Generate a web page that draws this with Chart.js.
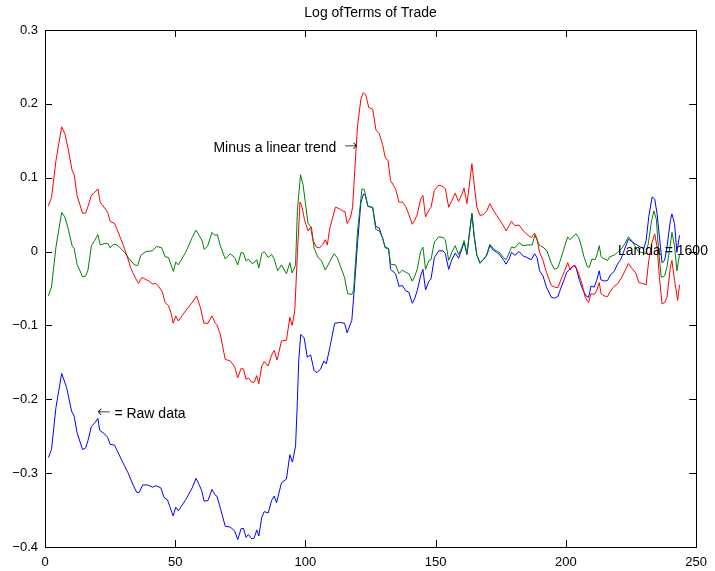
<!DOCTYPE html>
<html>
<head>
<meta charset="utf-8">
<script src="https://cdn.jsdelivr.net/npm/chart.js@4/dist/chart.umd.min.js"></script>
<style>
  html, body { margin: 0; padding: 0; background: #ffffff; }
  #wrap { width: 715px; height: 571px; }
</style>
</head>
<body>
<div id="wrap"><canvas id="c" width="715" height="571"></canvas></div>
<script>
// Axis ticks and title
const chartTitle = 'Log ofTerms of Trade';
const xTickValues = [0, 50, 100, 150, 200, 250];
const yTickValues = [-0.4, -0.3, -0.2, -0.1, 0, 0.1, 0.2, 0.3];

// Raw log terms of trade: [quarter, value]
const rawSeries = [
  [1.3,-0.279],[2.5,-0.268],[4.2,-0.211],[6.4,-0.165],[8.3,-0.184],[10.2,-0.216],[11.2,-0.223],
  [12.3,-0.245],[14.4,-0.268],[15.6,-0.266],[16.5,-0.256],[17.8,-0.237],[19.1,-0.232],[20.3,-0.226],
  [21.0,-0.242],[22.9,-0.247],[24.1,-0.252],[25.0,-0.261],[26.7,-0.262],[27.9,-0.271],[29.8,-0.285],
  [31.8,-0.299],[33.7,-0.315],[35.2,-0.326],[36.2,-0.326],[37.5,-0.316],[39.4,-0.316],[41.3,-0.319],
  [42.6,-0.317],[44.5,-0.320],[45.7,-0.333],[47.0,-0.336],[47.9,-0.345],[49.2,-0.358],[50.2,-0.346],
  [51.2,-0.351],[54.0,-0.336],[56.5,-0.320],[58.0,-0.307],[59.1,-0.315],[60.1,-0.323],[61.1,-0.338],
  [62.6,-0.337],[64.1,-0.322],[65.4,-0.330],[66.0,-0.331],[67.3,-0.347],[69.2,-0.372],[71.1,-0.373],
  [72.8,-0.378],[74.0,-0.390],[75.3,-0.375],[76.2,-0.375],[77.2,-0.387],[78.1,-0.383],[79.4,-0.389],
  [80.3,-0.388],[81.3,-0.377],[82.1,-0.385],[83.2,-0.360],[84.2,-0.352],[85.7,-0.354],[87.0,-0.337],
  [88.0,-0.331],[88.9,-0.340],[90.8,-0.313],[92.7,-0.308],[94.0,-0.275],[95.0,-0.285],[96.2,-0.263],
  [96.9,-0.202],[97.4,-0.148],[98.2,-0.112],[99.5,-0.117],[100.7,-0.143],[102.0,-0.140],[103.3,-0.161],
  [104.4,-0.164],[105.8,-0.159],[107.1,-0.148],[108.0,-0.152],[109.3,-0.131],[111.2,-0.097],[113.1,-0.096],
  [115.0,-0.097],[116.0,-0.110],[117.8,-0.093],[118.8,-0.048],[120.0,0.012],[121.3,0.067],[122.3,0.078],
  [123.0,0.076],[124.0,0.061],[125.8,0.060],[127.0,0.034],[128.3,0.032],[129.6,0.018],[130.6,0.006],
  [131.9,0.004],[132.7,-0.024],[134.6,-0.030],[135.9,-0.047],[137.2,-0.046],[138.5,-0.053],[139.7,-0.055],
  [141.0,-0.070],[141.9,-0.064],[142.9,-0.053],[144.2,-0.033],[145.1,-0.024],[146.1,-0.052],[147.4,-0.040],
  [148.2,-0.037],[149.5,-0.008],[151.2,0.001],[152.8,0.001],[153.7,-0.003],[155.0,-0.024],[156.2,-0.011],
  [157.5,-0.002],[158.8,-0.009],[160.1,0.004],[160.9,0.013],[162.0,-0.004],[162.8,0.019],[163.9,0.051],
  [164.8,0.019],[165.8,-0.005],[167.0,-0.015],[168.3,-0.011],[169.6,-0.005],[170.8,0.008],[172.1,0.002],
  [173.4,-0.001],[174.7,-0.005],[176.0,-0.011],[177.0,-0.017],[178.2,-0.010],[179.1,-0.001],[180.4,-0.005],
  [182.0,0.000],[183.6,-0.006],[185.0,-0.008],[186.7,-0.011],[188.0,-0.003],[188.9,-0.008],[189.9,-0.026],
  [191.2,-0.033],[192.5,-0.048],[194.4,-0.062],[195.6,-0.063],[196.9,-0.061],[198.2,-0.048],[199.4,-0.037],
  [200.3,-0.028],[201.3,-0.025],[202.9,-0.019],[203.9,-0.022],[205.2,-0.039],[206.4,-0.051],[207.7,-0.060],
  [208.7,-0.062],[209.6,-0.047],[210.9,-0.048],[211.8,-0.039],[212.8,-0.026],[213.4,-0.038],[214.7,-0.040],
  [216.0,-0.039],[217.2,-0.031],[218.5,-0.027],[219.8,-0.017],[221.0,-0.011],[222.3,0.001],[224.0,0.017],
  [225.5,0.013],[226.8,0.010],[228.7,0.006],[229.9,0.004],[230.8,0.015],[231.8,0.047],[233.1,0.074],
  [234.1,0.071],[235.0,0.051],[236.3,0.006],[236.9,-0.015],[237.9,-0.012],[238.8,0.006],[240.1,0.042],
  [240.7,0.051],[241.7,0.038],[242.6,-0.001],[243.6,0.022]
];

// HP-filtered cycle (lambda = 1600): [quarter, value]
const hpSeries = [
  [1.3,-0.060],[2.5,-0.048],[4.2,0.006],[6.4,0.053],[7.6,0.047],[8.9,0.031],[10.4,0.008],[11.2,0.004],
  [12.3,-0.017],[14.4,-0.034],[15.6,-0.033],[16.5,-0.025],[17.8,0.008],[19.1,0.015],[20.3,0.023],
  [21.2,0.009],[22.9,0.011],[24.1,0.011],[25.0,0.005],[26.3,0.010],[27.5,0.009],[28.6,0.006],[30.5,-0.001],
  [32.4,-0.010],[34.3,-0.018],[35.6,-0.019],[36.8,-0.005],[38.8,0.000],[41.3,0.001],[42.8,0.007],
  [44.8,0.005],[46.1,-0.007],[47.4,-0.008],[48.3,-0.017],[49.3,-0.027],[50.2,-0.014],[51.2,-0.018],
  [54.0,-0.001],[56.5,0.019],[58.0,0.029],[59.3,0.021],[60.3,0.015],[61.1,0.003],[62.4,0.007],[64.1,0.026],
  [65.2,0.022],[66.2,0.023],[67.3,0.008],[69.2,-0.010],[71.1,-0.003],[72.8,-0.008],[74.0,-0.018],
  [75.3,-0.001],[76.2,-0.002],[77.2,-0.013],[78.1,-0.010],[79.4,-0.016],[80.3,-0.015],[81.3,-0.011],
  [82.1,-0.022],[83.2,-0.003],[84.2,0.000],[85.7,-0.008],[87.0,-0.004],[88.0,-0.010],[89.3,-0.026],
  [90.8,-0.018],[92.7,-0.030],[94.0,-0.015],[94.9,-0.029],[96.2,-0.018],[96.9,0.056],[98.1,0.104],
  [99.1,0.090],[100.0,0.065],[101.0,0.038],[102.3,0.033],[103.3,0.005],[104.8,-0.008],[106.1,-0.012],
  [107.6,-0.025],[109.3,-0.014],[111.0,-0.003],[112.2,-0.008],[113.4,-0.020],[115.0,-0.035],[116.2,-0.057],
  [117.8,-0.058],[118.5,-0.052],[120.0,0.028],[121.7,0.085],[122.6,0.084],[123.9,0.062],[125.8,0.059],
  [127.0,0.030],[128.3,0.028],[129.6,0.019],[130.6,0.005],[131.9,0.004],[132.7,-0.017],[134.6,-0.018],
  [135.9,-0.030],[137.2,-0.025],[138.5,-0.028],[139.7,-0.030],[141.0,-0.040],[141.9,-0.034],[142.9,-0.024],
  [144.2,0.000],[145.1,0.006],[146.1,-0.024],[147.4,-0.012],[148.2,-0.011],[149.5,0.013],[151.2,0.020],
  [152.8,0.019],[153.7,0.016],[155.0,-0.012],[156.2,-0.001],[157.5,0.008],[158.8,-0.004],[160.1,0.006],
  [160.9,0.015],[162.0,-0.003],[162.8,0.022],[163.9,0.052],[164.8,0.022],[165.8,-0.005],[167.0,-0.016],
  [168.3,-0.011],[169.6,-0.004],[170.8,0.010],[172.1,0.004],[173.4,0.001],[174.7,-0.002],[176.0,-0.008],
  [177.0,-0.011],[178.2,-0.002],[179.1,0.006],[180.4,0.005],[182.0,0.012],[183.6,0.008],[185.5,0.009],
  [187.1,0.009],[188.0,0.022],[188.9,0.016],[189.9,0.008],[191.2,0.006],[192.7,0.001],[194.4,-0.016],
  [195.6,-0.024],[196.9,-0.022],[198.2,-0.008],[199.4,0.006],[200.7,0.020],[201.6,0.016],[202.6,0.020],
  [203.9,0.024],[204.9,0.019],[205.8,0.009],[207.0,-0.008],[208.3,-0.021],[209.0,-0.021],[210.0,-0.010],
  [211.2,-0.011],[211.8,-0.006],[212.8,0.008],[213.5,-0.007],[214.7,-0.010],[216.0,-0.012],[216.8,-0.007],
  [218.5,-0.005],[219.8,-0.001],[221.4,0.004],[222.7,0.011],[224.0,0.020],[225.2,0.015],[226.1,0.010],
  [227.8,0.000],[229.0,-0.001],[230.6,-0.003],[231.6,0.010],[232.9,0.042],[233.8,0.055],[234.7,0.044],
  [235.6,0.001],[236.6,-0.035],[237.9,-0.033],[238.8,-0.021],[240.1,0.010],[240.7,0.026],[241.7,0.008],
  [242.6,-0.026],[243.6,-0.005]
];

// Series minus a linear trend: [quarter, value]
const detrendedSeries = [
  [1.3,0.062],[2.5,0.073],[4.2,0.123],[6.4,0.169],[7.6,0.160],[8.9,0.139],[10.4,0.110],[11.2,0.104],
  [12.3,0.076],[14.4,0.052],[15.6,0.052],[16.5,0.061],[17.8,0.076],[19.1,0.080],[20.3,0.085],[21.2,0.067],
  [22.9,0.059],[24.1,0.053],[25.0,0.041],[26.7,0.038],[27.9,0.028],[29.6,0.013],[31.4,-0.005],[33.0,-0.023],
  [34.9,-0.037],[35.9,-0.043],[37.2,-0.035],[38.8,-0.038],[40.0,-0.040],[41.3,-0.044],[42.6,-0.043],
  [43.8,-0.048],[45.1,-0.055],[46.1,-0.069],[47.4,-0.073],[48.3,-0.082],[49.2,-0.097],[50.2,-0.087],
  [51.2,-0.094],[54.0,-0.080],[56.5,-0.069],[58.2,-0.060],[59.7,-0.076],[61.0,-0.097],[62.6,-0.097],
  [64.1,-0.087],[65.4,-0.097],[66.0,-0.099],[67.3,-0.112],[69.2,-0.146],[71.1,-0.148],[72.8,-0.156],
  [74.0,-0.171],[75.3,-0.158],[76.2,-0.159],[77.2,-0.173],[78.1,-0.171],[79.4,-0.177],[80.3,-0.177],
  [81.3,-0.168],[82.1,-0.179],[83.2,-0.155],[84.2,-0.149],[85.7,-0.155],[87.0,-0.140],[88.0,-0.134],
  [89.1,-0.147],[90.8,-0.121],[92.7,-0.120],[94.0,-0.089],[94.9,-0.100],[95.9,-0.080],[96.9,-0.003],
  [97.9,0.067],[98.7,0.060],[99.7,0.042],[101.0,0.028],[102.0,0.033],[102.9,0.015],[104.2,0.006],
  [105.4,0.005],[106.7,0.010],[107.6,0.016],[108.4,0.009],[109.3,0.031],[110.3,0.044],[111.5,0.060],
  [113.1,0.058],[114.3,0.055],[115.2,0.054],[116.0,0.038],[117.3,0.046],[118.1,0.060],[119.0,0.114],
  [120.0,0.170],[121.3,0.207],[122.2,0.215],[123.2,0.212],[124.3,0.195],[125.8,0.193],[127.1,0.164],
  [128.3,0.160],[129.6,0.145],[130.6,0.128],[131.7,0.123],[132.7,0.096],[134.6,0.085],[135.9,0.067],
  [137.2,0.067],[138.5,0.061],[139.7,0.050],[141.0,0.037],[141.9,0.042],[142.9,0.050],[144.2,0.071],
  [145.1,0.076],[146.1,0.047],[147.4,0.056],[148.2,0.060],[149.5,0.083],[151.2,0.090],[152.8,0.088],
  [153.7,0.085],[155.0,0.060],[156.2,0.069],[157.5,0.079],[158.8,0.068],[160.1,0.078],[160.9,0.086],
  [162.0,0.065],[162.8,0.087],[163.9,0.119],[164.8,0.090],[165.8,0.060],[167.0,0.049],[168.3,0.050],
  [169.6,0.055],[170.8,0.065],[172.1,0.056],[173.4,0.049],[174.7,0.042],[176.0,0.035],[177.0,0.028],
  [178.2,0.035],[179.1,0.041],[180.4,0.035],[182.0,0.036],[183.6,0.028],[185.5,0.022],[186.7,0.019],
  [188.0,0.025],[188.9,0.017],[189.9,-0.001],[191.2,-0.012],[192.5,-0.028],[194.4,-0.046],[195.6,-0.048],
  [196.9,-0.049],[198.2,-0.037],[199.4,-0.027],[200.7,-0.015],[201.6,-0.025],[202.6,-0.020],[203.6,-0.019],
  [204.9,-0.030],[206.2,-0.044],[207.4,-0.062],[208.7,-0.069],[209.6,-0.057],[210.9,-0.058],[211.8,-0.053],
  [212.8,-0.042],[213.5,-0.057],[214.7,-0.060],[216.0,-0.061],[216.8,-0.055],[218.5,-0.047],[219.8,-0.044],
  [221.4,-0.035],[222.7,-0.026],[224.0,-0.016],[225.2,-0.022],[226.8,-0.029],[228.0,-0.042],[229.3,-0.043],
  [230.8,-0.045],[231.8,-0.012],[233.1,0.013],[234.1,0.024],[235.0,0.006],[235.9,-0.035],[236.9,-0.071],
  [237.9,-0.069],[238.8,-0.062],[240.1,-0.021],[240.7,-0.012],[241.7,-0.039],[242.9,-0.066],[243.6,-0.045]
];

// Text notes placed in data coordinates; each note is a run of segments
// (arrows are set in a font whose arrow glyphs are full width)
const notes = [
  { x: 120, y: 0.14, align: 'right', parts: [['Minus a linear trend  ', 'text'], ['\u2192', 'arrow']] },
  { x: 20, y: -0.22, align: 'left', parts: [['\u2190', 'arrow'], [' = Raw data', 'text']] },
  { x: 220, y: 0, align: 'left', parts: [['Lamda = 1600', 'text']] }
];

const FONT = "'Liberation Sans', Arial, Helvetica, sans-serif";
const NOTE_FONTS = { text: '14px ' + FONT, arrow: "200 16px 'DejaVu Sans', sans-serif" };
Chart.defaults.font.family = FONT;
Chart.defaults.font.size = 13;
Chart.defaults.color = '#000000';

const toPoints = arr => arr.map(p => ({ x: p[0], y: p[1] }));

function fmtTick(v) {
  const r = Math.round(v * 10) / 10;
  if (r === 0) return '0';
  return (r < 0 ? '\u2212' : '') + Math.abs(r).toFixed(1);
}

function drawNote(ctx, note, px, py) {
  const widths = note.parts.map(([t, f]) => { ctx.font = NOTE_FONTS[f]; return ctx.measureText(t).width; });
  const total = widths.reduce((s, w) => s + w, 0);
  let x = note.align === 'right' ? px - total : px;
  ctx.textAlign = 'left';
  ctx.textBaseline = 'middle';
  note.parts.forEach(([t, f], i) => {
    ctx.font = NOTE_FONTS[f];
    ctx.fillText(t, x, f === 'arrow' ? py - 1 : py);
    x += widths[i];
  });
}

// Title, text notes, then box frame with inward ticks on all four sides
const framePlugin = {
  id: 'frame',
  afterDatasetsDraw(chart) {
    const { ctx, chartArea: a, scales } = chart;
    const L = 7;
    ctx.save();
    ctx.fillStyle = '#000000';
    notes.forEach(n => drawNote(ctx, n, scales.x.getPixelForValue(n.x), scales.y.getPixelForValue(n.y)));

    ctx.font = '14px ' + FONT;
    ctx.textAlign = 'center';
    ctx.textBaseline = 'middle';
    ctx.fillText(chartTitle, (a.left + a.right) / 2, 13);

    ctx.strokeStyle = '#000000';
    ctx.lineWidth = 1;
    ctx.beginPath();
    xTickValues.forEach(v => {
      const px = Math.round(scales.x.getPixelForValue(v)) + 0.5;
      ctx.moveTo(px, a.bottom); ctx.lineTo(px, a.bottom - L);
      ctx.moveTo(px, a.top); ctx.lineTo(px, a.top + L);
    });
    yTickValues.forEach(v => {
      const py = Math.round(scales.y.getPixelForValue(v)) + 0.5;
      ctx.moveTo(a.left, py); ctx.lineTo(a.left + L, py);
      ctx.moveTo(a.right, py); ctx.lineTo(a.right - L, py);
    });
    ctx.stroke();
    ctx.strokeRect(Math.round(a.left) + 0.5, Math.round(a.top) + 0.5,
                   Math.round(a.right - a.left), Math.round(a.bottom - a.top));
    ctx.restore();
  }
};

new Chart(document.getElementById('c'), {
  type: 'line',
  data: {
    datasets: [
      { label: 'Minus a linear trend', data: toPoints(detrendedSeries), borderColor: '#ff0000' },
      { label: 'Lamda = 1600', data: toPoints(hpSeries), borderColor: '#008000' },
      { label: 'Raw data', data: toPoints(rawSeries), borderColor: '#0000ff' }
    ]
  },
  options: {
    responsive: false,
    animation: false,
    devicePixelRatio: 1,
    layout: { padding: { top: 30, right: 14, left: 0, bottom: 0 } },
    elements: {
      line: { borderWidth: 1, tension: 0, fill: false },
      point: { radius: 0, hoverRadius: 0 }
    },
    plugins: { legend: { display: false }, tooltip: { enabled: false }, title: { display: false } },
    scales: {
      x: {
        type: 'linear', min: 0, max: 250,
        afterBuildTicks: s => { s.ticks = xTickValues.map(v => ({ value: v })); },
        afterFit: s => { s.height = 24; },
        grid: { display: false, drawTicks: false },
        border: { display: false },
        ticks: { padding: 8, maxRotation: 0, color: '#000', font: { size: 13 } }
      },
      y: {
        type: 'linear', min: -0.4, max: 0.3,
        afterBuildTicks: s => { s.ticks = yTickValues.map(v => ({ value: v })); },
        afterFit: s => { s.width = 45; },
        grid: { display: false, drawTicks: false },
        border: { display: false },
        ticks: { padding: 7, color: '#000', font: { size: 13 }, callback: v => fmtTick(v) }
      }
    }
  },
  plugins: [framePlugin]
});
</script>
</body>
</html>
